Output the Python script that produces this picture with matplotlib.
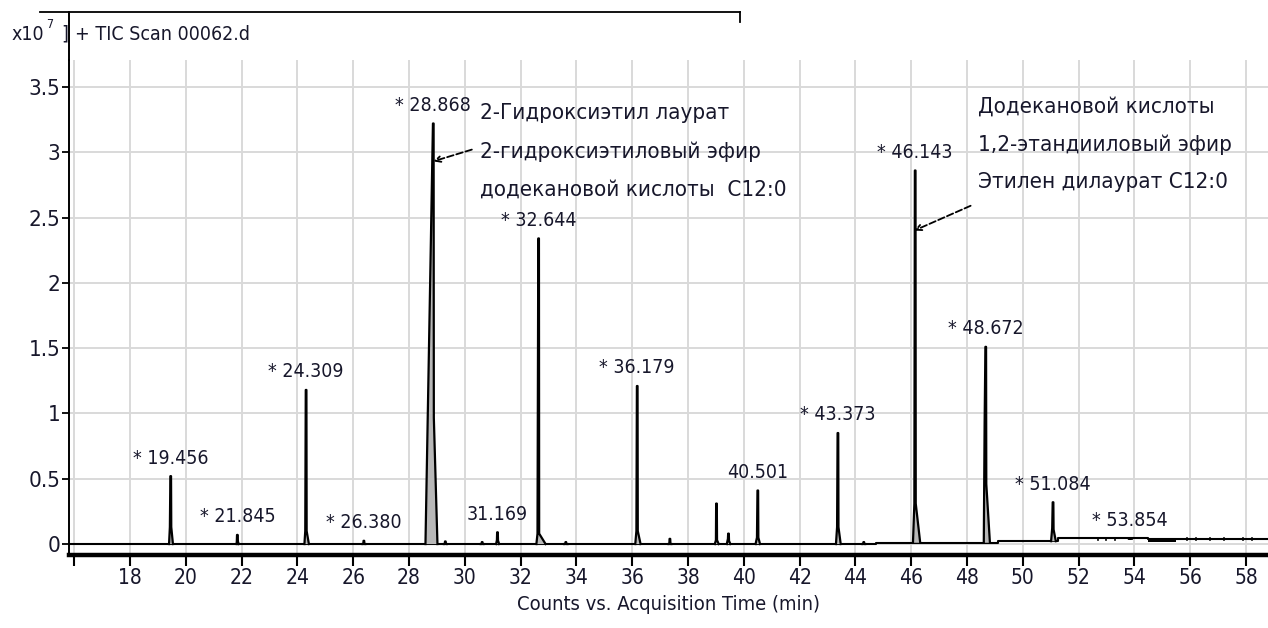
import numpy as np
import matplotlib.pyplot as plt
from matplotlib.lines import Line2D

plt.rcParams['font.family'] = ['DejaVu Sans']
plt.rcParams['font.stretch'] = 'condensed'

ink = '#17172b'

# retention time (min) and apex (x10^7 counts) of every peak
peak_rt = [19.456, 21.845, 24.309, 26.380, 28.868, 29.30, 30.62, 31.169, 32.644, 33.62,
           36.179, 37.35, 39.02, 39.45, 40.501, 43.373, 44.30, 46.143, 48.672, 51.084, 53.854]
peak_top = [0.52, 0.07, 1.18, 0.025, 3.22, 0.02, 0.015, 0.09, 2.34, 0.015,
            1.21, 0.04, 0.31, 0.08, 0.41, 0.85, 0.015, 2.86, 1.51, 0.32, 0.045]
peak_base = [0, 0, 0, 0, 0, 0, 0, 0, 0, 0,
             0, 0, 0, 0, 0, 0, 0, 0.01, 0.01, 0.022, 0.04]
# shape of the foot of each peak
foot_h = [0.13, 0.02, 0.10, 0, 2.15, 0, 0, 0.03, 0.08, 0,
          0.10, 0, 0.03, 0.04, 0.05, 0.13, 0, 0.30, 0.92, 0.10, 0]
foot_wl = [0.06, 0.03, 0.06, 0.05, 0.28, 0.05, 0.05, 0.05, 0.08, 0.06,
           0.07, 0.05, 0.06, 0.06, 0.08, 0.07, 0.05, 0.08, 0.07, 0.07, 0.05]
foot_wr = [0.08, 0.05, 0.10, 0.05, 0.15, 0.05, 0.05, 0.06, 0.25, 0.06,
           0.12, 0.05, 0.08, 0.07, 0.08, 0.10, 0.05, 0.18, 0.15, 0.10, 0.05]
shoulder_l = [0.03, 0.02, 0.03, 0.02, 0.10, 0.02, 0.02, 0.02, 0.04, 0.02,
              0.03, 0.02, 0.02, 0.02, 0.03, 0.03, 0.02, 0.03, 0.04, 0.03, 0.02]
labelled = [True, True, True, True, True, False, False, True, True, False,
            True, False, False, False, True, True, False, True, True, True, True]
starred = [True, True, True, True, True, False, False, False, True, False,
           True, False, False, False, False, True, False, True, True, True, True]

# baseline drift (steps) of the TIC trace
base_t = [15.81, 44.75, 44.75, 49.10, 49.10, 51.25, 51.25, 54.50, 54.50, 55.50, 55.50, 58.79]
base_y = [0, 0, 0.01, 0.01, 0.022, 0.022, 0.045, 0.045, 0.042, 0.042, 0.038, 0.038]
noise_t = [52.7, 53.0, 53.3, 55.9, 56.2, 56.7, 57.2, 57.9, 58.2]

ann_left = ['2-Гидроксиэтил лаурат', '2-гидроксиэтиловый эфир', 'додекановой кислоты  C12:0']
ann_right = ['Додекановой кислоты', '1,2-этандииловый эфир', 'Этилен дилаурат C12:0']

x_ticks = list(range(16, 59, 2))
y_ticks = [0, 0.5, 1, 1.5, 2, 2.5, 3, 3.5]

W, H = 1268, 628
fig = plt.figure(figsize=(W / 100, H / 100), dpi=100, facecolor='white')
ax = fig.add_axes([69 / W, 1 - 554.5 / H, 1 - 69 / W, (554.5 - 60) / H])
ax.set_xlim(15.81, 58.79)
ax.set_ylim(-0.080, 3.706)

ax.set_xticks(x_ticks)
ax.set_xticklabels(['' if t == 16 else str(t) for t in x_ticks])
ax.set_yticks(y_ticks)
ax.set_yticklabels([f'{v:g}' for v in y_ticks])
ax.grid(True, color='#d9d9d9', lw=1.4, zorder=0)
ax.set_axisbelow(True)
ax.tick_params(axis='x', direction='out', length=8, width=1.5, pad=2,
               labelsize=15, labelcolor=ink)
ax.tick_params(axis='y', direction='out', length=5, width=1.3, pad=1,
               labelsize=16, labelcolor=ink)
for s in ('top', 'right'):
    ax.spines[s].set_visible(False)
ax.spines['bottom'].set_linewidth(3.2)
ax.spines['left'].set_linewidth(1.4)

# baseline
ax.plot(base_t, base_y, color='black', lw=1.5, zorder=3)
ax.fill_between([54.5, 55.5], [0.015, 0.015], [0.045, 0.045], color='black', lw=0, zorder=3)
for t in noise_t:
    ax.plot([t, t], [0.03, 0.045], color='black', lw=1.2, zorder=3)

# peaks
for i, rt in enumerate(peak_rt):
    b, top, fh = peak_base[i], peak_top[i], foot_h[i]
    xs = [rt - foot_wl[i], rt - shoulder_l[i], rt - 0.012, rt + 0.012, rt + 0.02, rt + foot_wr[i]]
    ys = [b, b + fh, top, top, b + min(fh, 0.3 * (top - b)), b]
    ax.fill(xs, ys, color='#b8b8b8', lw=0, zorder=4)
    ax.plot(xs, ys, color='black', lw=1.6, zorder=5)
    if labelled[i]:
        txt = (f'* {rt:.3f}' if starred[i] else f'{rt:.3f}')
        ax.annotate(txt, xy=(rt, top), xytext=(0, 13), textcoords='offset points',
                    ha='center', va='center', fontsize=14, color=ink, zorder=6)

# compound notes with dashed arrows
for j, line in enumerate(ann_left):
    ax.text(30.55, [3.30, 3.00, 2.71][j], line, fontsize=16, color=ink,
            ha='left', va='center', zorder=6)
for j, line in enumerate(ann_right):
    ax.text(48.39, [3.35, 3.055, 2.77][j], line, fontsize=16, color=ink,
            ha='left', va='center', zorder=6)
ax.annotate('', xy=(28.87, 2.93), xytext=(30.25, 3.02),
            arrowprops=dict(arrowstyle='->', ls='--', color='black', lw=1.3,
                            shrinkA=0, shrinkB=0), zorder=6)
ax.annotate('', xy=(46.11, 2.40), xytext=(48.13, 2.59),
            arrowprops=dict(arrowstyle='->', ls='--', color='black', lw=1.3,
                            shrinkA=0, shrinkB=0), zorder=6)

ax.set_xlabel('Counts vs. Acquisition Time (min)', fontsize=14.5, color=ink, labelpad=5)

# header box and scale factor
fig.add_artist(Line2D([40 / W, 740 / W], [1 - 12 / H, 1 - 12 / H], color='black', lw=1.3,
                      transform=fig.transFigure))
fig.add_artist(Line2D([740 / W, 740 / W], [1 - 12 / H, 1 - 22 / H], color='black', lw=1.3,
                      transform=fig.transFigure))
fig.add_artist(Line2D([69 / W, 69 / W], [1 - 12 / H, 1 - 60 / H], color='black', lw=1.4,
                      transform=fig.transFigure))
fig.text(12 / W, 1 - 34 / H, 'x10', fontsize=14, color=ink, ha='left', va='center')
fig.text(46 / W, 1 - 25 / H, '7', fontsize=9, color=ink, ha='left', va='center')
fig.text(61 / W, 1 - 34 / H, ']', fontsize=14, color=ink, ha='left', va='center')
fig.text(75 / W, 1 - 34 / H, '+ TIC Scan 00062.d', fontsize=14, color=ink, ha='left', va='center')

fig.savefig('out.png', dpi=100)
